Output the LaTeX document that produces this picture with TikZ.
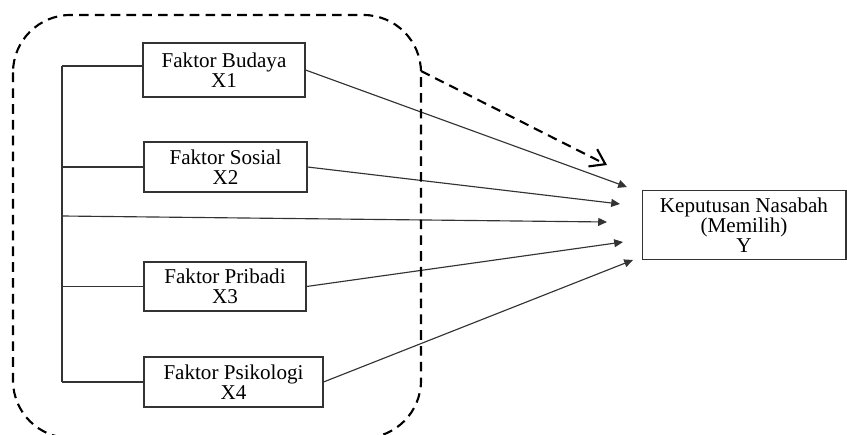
\documentclass[tikz,border=0pt]{standalone}
\usepackage{fontspec}
\setmainfont{Liberation Serif}
\usepackage{tikz}
\usetikzlibrary{arrows.meta,positioning,calc}
\tikzstyle{faktor}=[draw=black!80,line width=0.6pt,align=center,inner sep=0pt,font=\fontsize{12}{11.5}\selectfont]
\tikzstyle{garis}=[draw=black!80,line width=0.65pt]
\tikzstyle{panah}=[garis,-{Triangle[length=5pt,width=4.5pt]}]
\tikzstyle{putus}=[line width=1.2pt,dash pattern=on 5.5pt off 3.5pt]

\begin{document}
\begin{tikzpicture}[x=0.02cm,y=-0.02cm]
\clip (0,0) rectangle (847,435);
\node [faktor, minimum width=3.24cm, minimum height=1.08cm] (x1) at (224,70) {Faktor Budaya\\X1};
\node [faktor, minimum width=3.26cm, minimum height=1cm] (x2) at (225.5,167) {Faktor Sosial\\X2};
\node [faktor, minimum width=3.24cm, minimum height=0.98cm] (x3) at (225,286.5) {Faktor Pribadi\\X3};
\node [faktor, minimum width=3.58cm, minimum height=1cm] (x4) at (233.5,382) {Faktor Psikologi\\X4};
\node [faktor, minimum width=4.08cm, minimum height=1.38cm] (y) at (744,225) {Keputusan Nasabah\\(Memilih)\\Y};

\coordinate (s1) at (62,66);
\coordinate (s4) at (62,382);
\coordinate (tengah) at (62,216);
\draw [garis] (s1) -- (s4);
\draw [garis] (s1) -- (s1 -| x1.west);
\draw [garis] (x2.west) -- (x2.west -| s1);
\draw [garis] (x3.west) -- (x3.west -| s1);
\draw [garis] (x4.west) -- (x4.west -| s1);

\coordinate (t1) at (627,187);
\coordinate (t2) at (620,204);
\coordinate (t0) at (607,222);
\coordinate (t3) at (623,242);
\coordinate (t4) at (633,260);
\draw [panah] (x1.east) -- (t1);
\draw [panah] (x2.east) -- (t2);
\draw [panah] (tengah) -- (t0);
\draw [panah] (x3.east) -- (t3);
\draw [panah] (x4.east) -- (t4);

\draw [putus, rounded corners=1.15cm] (13,15) rectangle (421,438);
\coordinate (d1) at (421,71);
\coordinate (d2) at (607,165);
\draw [putus, -{Straight Barb[length=8pt,width=11pt]}] (d1) -- (d2);
\end{tikzpicture}
\end{document}
